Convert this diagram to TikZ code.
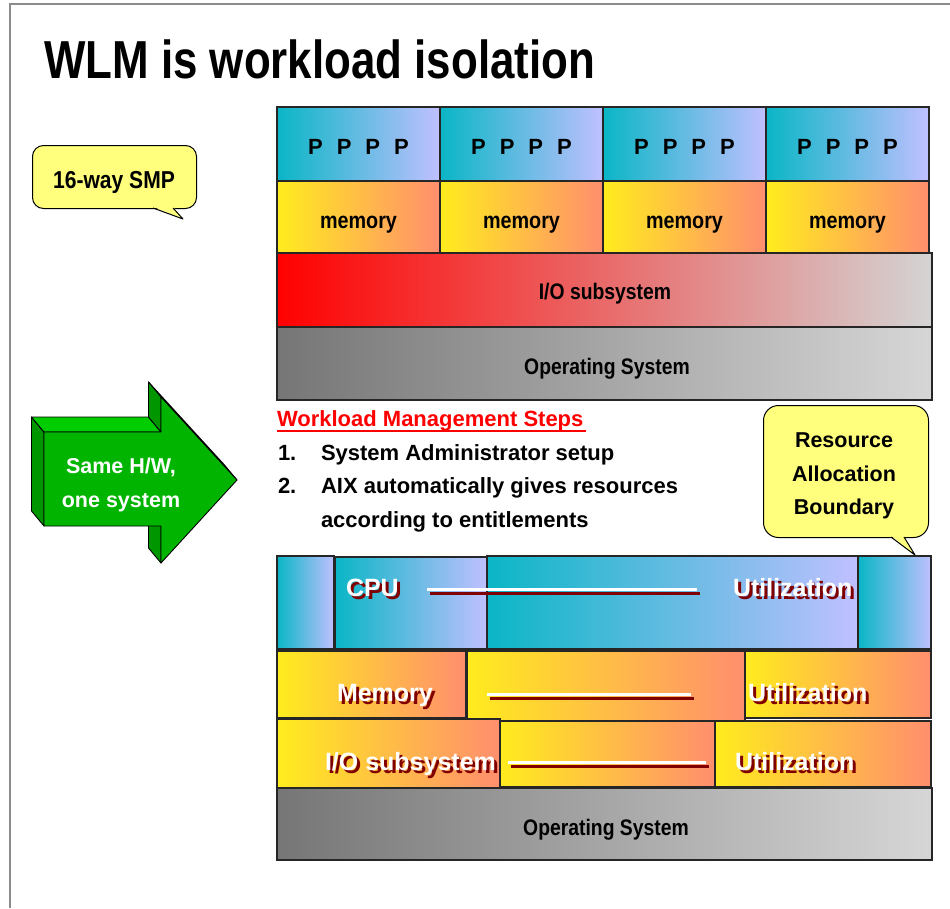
\documentclass[tikz,border=0pt]{standalone}
\usepackage{fontspec}
\setmainfont{Liberation Sans}
\newfontfamily\narrowfont{Liberation Sans}[FakeStretch=0.82]
\newfontfamily\midfont{Liberation Sans}[FakeStretch=0.86]
\definecolor{tealc}{RGB}{10,182,198}
\definecolor{lavc}{RGB}{192,192,255}
\definecolor{memyel}{RGB}{255,236,30}
\definecolor{memsal}{RGB}{255,142,110}
\definecolor{iored}{RGB}{255,0,0}
\definecolor{iogray}{RGB}{212,212,212}
\definecolor{osdark}{RGB}{118,118,118}
\definecolor{oslight}{RGB}{214,214,214}
\definecolor{callfill}{RGB}{255,255,125}
\definecolor{grfront}{RGB}{0,180,0}
\definecolor{grtop}{RGB}{0,205,0}
\definecolor{grside}{RGB}{0,150,0}
\definecolor{shred}{RGB}{128,0,0}
\definecolor{framegray}{RGB}{140,140,140}
\tikzset{
  blk/.style={draw=black!85, line width=1.3pt, rectangle, inner sep=0pt, outer sep=0pt, anchor=north west},
  pfill/.style={left color=tealc, right color=lavc},
  mfill/.style={left color=memyel, right color=memsal},
  iofill/.style={left color=iored, right color=iogray},
  osfill/.style={left color=osdark, right color=oslight},
  txt/.style={inner sep=0pt, outer sep=0pt, anchor=base, font=\bfseries\fontsize{22}{24}\selectfont},
  midtxt/.style={txt, font=\midfont\bfseries\fontsize{22.5}{24}\selectfont},
  bigtxt/.style={inner sep=0pt, outer sep=0pt, anchor=base west, font=\bfseries\fontsize{25}{30}\selectfont},
  steptxt/.style={inner sep=0pt, outer sep=0pt, anchor=base west, font=\bfseries\fontsize{22}{26}\selectfont},
  callout/.style={draw=black, line width=1pt, fill=callfill},
  wline/.style={white, line width=3pt},
  sline/.style={shred, line width=3pt},
  arrowface/.style={draw=black, line width=0.9pt, line join=round},
}
\newcommand\shtext[4]{%
  \node[bigtxt, text=shred] (#1s) at ({#2+3},{#3+3}) {#4};
  \node[bigtxt, text=white] (#1) at (#2,#3) {#4};}
\begin{document}
\begin{tikzpicture}[x=1pt,y=-1pt]
\useasboundingbox (0,0) rectangle (950,908);
% frame
\draw[framegray, line width=2pt] (10,908) -- (10,4) -- (950,4);
% title
\node[inner sep=0pt, anchor=base west, font=\narrowfont\bfseries\fontsize{53.5}{60}\selectfont] (title) at (44,78) {WLM is workload isolation};

% ---------- top hardware ----------
\foreach \i/\x in {1/277,2/440,3/603,4/766}{
  \node[blk, pfill, minimum width=163pt, minimum height=74pt] (p\i) at (\x,107) {};
  \node[txt] (pt\i) at ({\x+81.5},154.5) {P\hspace{14pt}P\hspace{14pt}P\hspace{14pt}P};
  \node[blk, mfill, minimum width=163pt, minimum height=72pt] (m\i) at (\x,181) {};
  \node[txt, font=\midfont\bfseries\fontsize{23}{24}\selectfont] (mt\i) at ({\x+81.5},228) {memory};
}
\node[blk, iofill, minimum width=655pt, minimum height=74pt] (io) at (277,253) {};
\node[midtxt] (iot) at (605,299) {I/O subsystem};
\node[blk, osfill, minimum width=655pt, minimum height=73pt] (os) at (277,327) {};
\node[midtxt] (ost) at (607,374) {Operating System};

% ---------- callout 16-way SMP ----------
\node[callout, rounded corners=11pt, anchor=north west, minimum width=164pt, minimum height=63pt, inner sep=0pt] (smp) at (32,145) {};
\fill[callfill] (153,206.8) -- (183,219) -- (173,206.8) -- cycle;
\draw[black, line width=1pt, line join=round] (153,208) -- (183,219) -- (173,208);
\node[txt, font=\midfont\bfseries\fontsize{24.5}{26}\selectfont] (smpt) at (114,188) {16-way SMP};

% ---------- green arrow ----------
\filldraw[arrowface, fill=grside] (148.5,382) -- (161,397) -- (237,480) -- (224.5,465) -- cycle;
\filldraw[arrowface, fill=grside] (31.5,417) -- (44,432) -- (44,526) -- (31.5,511) -- cycle;
\filldraw[arrowface, fill=grtop] (31.5,417) -- (148.5,417) -- (161,432) -- (44,432) -- cycle;
\filldraw[arrowface, fill=grside] (148.5,382) -- (161,397) -- (161,432) -- (148.5,417) -- cycle;
\filldraw[arrowface, fill=grside] (148.5,511) -- (161,526) -- (161,563) -- (148.5,548) -- cycle;
\filldraw[arrowface, fill=grfront] (44,432) -- (161,432) -- (161,397) -- (237,480) -- (161,563) -- (161,526) -- (44,526) -- cycle;
\node[txt, text=white, font=\bfseries\fontsize{21.5}{24}\selectfont] (ar1) at (121,473) {Same H/W,};
\node[txt, text=white, font=\bfseries\fontsize{21.5}{24}\selectfont] (ar2) at (121,507) {one system};

% ---------- steps ----------
\node[steptxt, text=red] (wms) at (277,426) {Workload Management Steps};
\draw[red, line width=2pt] (277,430.5) -- (586,430.5);
\node[steptxt] (n1) at (278,460) {1.};
\node[steptxt] (s1) at (321,460) {System Administrator setup};
\node[steptxt] (n2) at (278,493) {2.};
\node[steptxt] (s2) at (321,493) {AIX automatically gives resources};
\node[steptxt] (s3) at (321,527) {according to entitlements};

% ---------- callout Resource Allocation Boundary ----------
\node[callout, rounded corners=15pt, anchor=north west, minimum width=165pt, minimum height=132pt, inner sep=0pt] (rab) at (763,405) {};
\fill[callfill] (891,535.8) -- (915,555) -- (904,535.8) -- cycle;
\draw[black, line width=1pt, line join=round] (891,537) -- (915,555) -- (904,537);
\node[txt, font=\bfseries\fontsize{21.5}{24}\selectfont] (rab1) at (844,447) {Resource};
\node[txt, font=\bfseries\fontsize{21.5}{24}\selectfont] (rab2) at (844,481) {Allocation};
\node[txt, font=\bfseries\fontsize{21.5}{24}\selectfont] (rab3) at (844,514) {Boundary};

% ---------- bottom: CPU row ----------
\node[blk, pfill, minimum width=57pt, minimum height=93pt] (c0) at (277,556) {};
\node[blk, pfill, minimum width=152pt, minimum height=92pt] (c1) at (335,557) {};
\node[blk, pfill, minimum width=371pt, minimum height=93pt] (c2) at (487,556) {};
\node[blk, pfill, minimum width=73pt, minimum height=93pt] (c3) at (858,556) {};
% memory row
\node[blk, mfill, minimum width=189pt, minimum height=67pt] (mm1) at (277,651) {};
\node[blk, mfill, minimum width=278pt, minimum height=138pt] (mm2) at (467,651) {};
\node[blk, mfill, minimum width=186pt, minimum height=67pt] (mm3) at (745,651) {};
% io row
\node[blk, mfill, minimum width=223pt, minimum height=69pt] (ii1) at (277,719) {};
\node[blk, mfill, minimum width=215pt, minimum height=66pt] (ii2) at (500,721) {};
\node[blk, mfill, minimum width=216pt, minimum height=66pt] (ii3) at (715,721) {};
% os
\node[blk, osfill, minimum width=655pt, minimum height=72pt] (os2) at (277,788) {};
\node[midtxt] (os2t) at (606,835) {Operating System};

% labels with shadow
\shtext{cpu}{346}{596}{CPU}
\shtext{cpuu}{733}{596}{Utilization}
\shtext{mem}{337}{701}{Memory}
\shtext{memu}{748}{701}{Utilization}
\shtext{iol}{325}{770}{I/O subsystem}
\shtext{iou}{735}{770}{Utilization}

% dash lines
\coordinate (l1a) at (427,589); \coordinate (l1b) at (697,589);
\coordinate (l2a) at (487,694); \coordinate (l2b) at (691,694);
\coordinate (l3a) at (508,762); \coordinate (l3b) at (706,762);
\foreach \a/\b in {l1a/l1b,l2a/l2b,l3a/l3b}{
  \draw[sline] ([shift={(3,4)}]\a) -- ([shift={(3,4)}]\b);
  \draw[wline] (\a) -- (\b);
}
\end{tikzpicture}
\end{document}
